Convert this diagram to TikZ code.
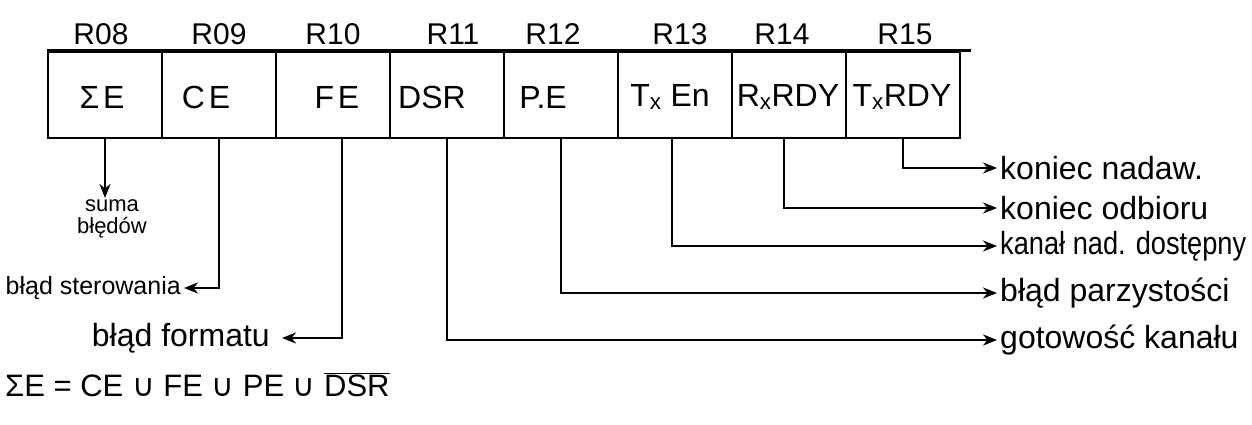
\documentclass[tikz,border=0pt]{standalone}
\usepackage{fontspec}
\setmainfont{Liberation Sans}
\newfontfamily\symf{DejaVu Sans}
\newfontfamily\spacedf[LetterSpace=12]{Liberation Sans}
\newfontfamily\narrowf[FakeStretch=0.85]{Liberation Sans}
\usetikzlibrary{arrows.meta,positioning}
\begin{document}
\begin{tikzpicture}[x=1pt,y=-1pt,
  cell/.style={draw,line width=2.6pt,minimum width=114pt,minimum height=86pt,inner sep=0pt},
  ctext/.style={font=\fontsize{32}{36}\selectfont,inner sep=0pt},
  reg/.style={font=\fontsize{30}{32}\selectfont,inner sep=0pt},
  lbl/.style={font=\fontsize{32}{34}\selectfont,inner sep=3pt},
  small/.style={font=\fontsize{22}{22}\selectfont,inner sep=1pt,align=center},
  arr/.style={line width=2.6pt,-{Stealth[length=14pt,width=11pt]}},
  ln/.style={line width=2.6pt}
]
\useasboundingbox (0,0) rectangle (1252,424);
% register cells
\node[cell] (SE) at (105,95) {};
\node[cell] (CE) at (219,95) {};
\node[cell] (FE) at (333,95) {};
\node[cell] (DSR) at (447,95) {};
\node[cell] (PE) at (561,95) {};
\node[cell] (TxEn) at (675,95) {};
\node[cell] (RxRDY) at (789,95) {};
\node[cell] (TxRDY) at (903,95) {};
\draw[ln] (SE.north west) -- ([xshift=10pt]TxRDY.north east);
% cell texts
\node[ctext] (tSE) at (102,97) {\spacedf ΣE};
\node[ctext] (tCE) at (206,97) {\spacedf CE};
\node[ctext] (tFE) at (337,97) {\spacedf FE};
\node[ctext] (tDSR) at (432,97) {DSR};
\node[ctext] (tPE) at (543,97) {P.E};
\node[ctext] (tTxEn) at (670,97) {T\textsubscript{x} En};
\node[ctext] (tRxRDY) at (788,97) {R\textsubscript{x}RDY};
\node[ctext] (tTxRDY) at (902,97) {T\textsubscript{x}RDY};
% bit labels
\node[reg,above=6pt of SE,xshift=-4pt] (r08) {R08};
\node[reg,above=6pt of CE] (r09) {R09};
\node[reg,above=6pt of FE] (r10) {R10};
\node[reg,above=6pt of DSR,xshift=6pt] (r11) {R11};
\node[reg,above=6pt of PE,xshift=-8pt] (r12) {R12};
\node[reg,above=6pt of TxEn,xshift=5pt] (r13) {R13};
\node[reg,above=6pt of RxRDY,xshift=-7pt] (r14) {R14};
\node[reg,above=6pt of TxRDY,xshift=2pt] (r15) {R15};
% right labels
\node[lbl,anchor=west] (lTxRDY) at (997,168) {koniec nadaw.};
\node[lbl,anchor=west] (lRxRDY) at (997,208) {koniec odbioru};
\node[lbl,anchor=west,font=\fontsize{32}{34}\narrowf] (lTxEn) at (997,246) {kanał nad. dostępny};
\node[lbl,anchor=west] (lPE) at (997,293) {błąd parzystości};
\node[lbl,anchor=west] (lDSR) at (997,340) {gotowość kanału};
% left labels
\node[lbl,anchor=east,font=\fontsize{25}{28}\selectfont] (lCE) at (184,288) {błąd sterowania};
\node[lbl,anchor=east,inner xsep=12pt] (lFE) at (282,338) {błąd formatu};
\node[small,anchor=north] (lSE) at (112,198) {suma\\błędów};
% connectors
\draw[arr] (SE.south) -- (SE.south |- lSE.north);
\draw[arr] (CE.south) |- (lCE.east);
\draw[arr] ([xshift=9pt]FE.south) |- (lFE.east);
\draw[arr] (DSR.south) |- (lDSR.west);
\draw[arr] (PE.south) |- (lPE.west);
\draw[arr] ([xshift=-3pt]TxEn.south) |- (lTxEn.west);
\draw[arr] ([xshift=-5pt]RxRDY.south) |- (lRxRDY.west);
\draw[arr] (TxRDY.south) |- (lTxRDY.west);
% formula
\node[anchor=west,inner sep=0pt,font=\fontsize{31}{34}\selectfont] (formula) at (5,385)
  {ΣE = CE {\symf ∪} FE {\symf ∪} PE {\symf ∪} $\overline{\mbox{DSR}}$};
\end{tikzpicture}
\end{document}
